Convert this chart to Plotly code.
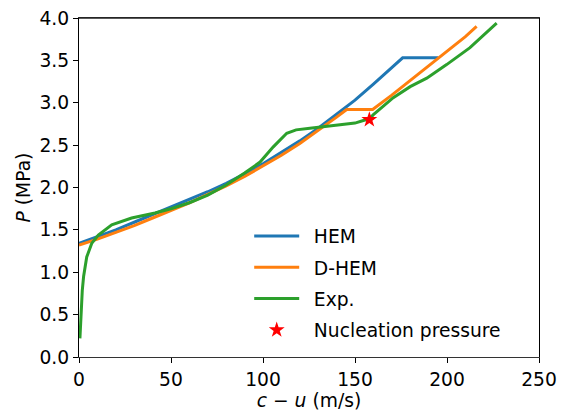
import plotly.graph_objects as go

hem_x = [0, 10, 20, 30, 40, 50, 60, 70, 80, 90, 100, 110, 120, 130, 140, 150, 160, 170, 175.9, 195.3]
hem_y = [1.34, 1.42, 1.50, 1.59, 1.68, 1.77, 1.86, 1.95, 2.05, 2.16, 2.28, 2.41, 2.55, 2.70, 2.86, 3.03, 3.22, 3.42, 3.53, 3.53]

dhem_x = [0, 10, 20, 30, 40, 50, 60, 70, 80, 90, 100, 110, 120, 130, 140, 145.5, 159.6, 170, 180, 190, 200, 210, 216.1]
dhem_y = [1.32, 1.39, 1.47, 1.55, 1.64, 1.73, 1.82, 1.92, 2.02, 2.13, 2.25, 2.38, 2.52, 2.67, 2.83, 2.92, 2.92, 3.09, 3.26, 3.43, 3.61, 3.78, 3.90]

exp_x = [0.5, 1.0, 1.8, 2.5, 4.2, 6.9, 10.5, 17.8, 28.6, 41.3, 50, 60, 70, 80, 90, 98.4, 105.6, 112.9, 118, 125.5, 135,
         143.6, 150, 154.5, 157.8, 160, 165, 170.8, 180, 189, 199.8, 212.5, 227]
exp_y = [0.22, 0.50, 0.79, 0.95, 1.18, 1.34, 1.44, 1.56, 1.64, 1.70, 1.75, 1.82, 1.91, 2.03, 2.17, 2.30, 2.48, 2.64, 2.68, 2.70, 2.72,
         2.74, 2.76, 2.79, 2.81, 2.86, 2.95, 3.06, 3.19, 3.29, 3.45, 3.65, 3.94]

nuc_x = [157.8]
nuc_y = [2.80]

names = ["HEM", "D-HEM", "Exp.", "Nucleation pressure"]
GAP = "\u00a0\u2009"

FS = 18.7

fig = go.Figure()
fig.add_trace(go.Scatter(x=hem_x, y=hem_y, mode="lines", name=GAP + names[0], legendgroup="a",
                         line=dict(color="#1f77b4", width=3)))
fig.add_trace(go.Scatter(x=dhem_x, y=dhem_y, mode="lines", name=GAP + names[1], legendgroup="b",
                         line=dict(color="#ff7f0e", width=3)))
fig.add_trace(go.Scatter(x=exp_x, y=exp_y, mode="lines", name=GAP + names[2], legendgroup="c",
                         line=dict(color="#2ca02c", width=3)))
fig.add_trace(go.Scatter(x=nuc_x, y=nuc_y, mode="markers", name=GAP + names[3], legendgroup="d",
                         marker=dict(symbol="star", color="red", size=12, line=dict(width=0))))

axis_common = dict(showgrid=False, zeroline=False, showline=True, linewidth=1.3,
                   mirror=True, ticks="outside", ticklen=5, tickwidth=1.2, tickcolor="black",
                   automargin=False,
                   tickfont=dict(family="DejaVu Sans", size=FS, color="black"))

fig.update_xaxes(range=[0, 250], tickvals=[0, 50, 100, 150, 200, 250], linecolor="#333",
                 title=dict(text="<i>c</i> − <i>u</i> (m/s)", font=dict(family="DejaVu Sans", size=FS, color="black"),
                            standoff=4),
                 **axis_common)
fig.update_yaxes(range=[0, 4.0], tickvals=[0, 0.5, 1.0, 1.5, 2.0, 2.5, 3.0, 3.5, 4.0], tickformat=".1f",
                 linecolor="black",
                 title=dict(text="<i>P</i> (MPa)", font=dict(family="DejaVu Sans", size=FS, color="black"),
                            standoff=3),
                 **axis_common)

# top frame line (axes spine)
fig.add_shape(type="line", xref="paper", yref="paper", x0=0, x1=1, y0=1, y1=1,
              line=dict(color="#222", width=1.6), layer="above")

fig.update_layout(
    width=561, height=413,
    margin=dict(l=79, r=22, t=18, b=56),
    paper_bgcolor="white", plot_bgcolor="white",
    font=dict(family="DejaVu Sans", size=FS, color="black"),
    legend=dict(x=0.370, y=0.412, xanchor="left", yanchor="top", bgcolor="rgba(0,0,0,0)",
                tracegroupgap=4, itemwidth=45,
                font=dict(family="DejaVu Sans", size=FS, color="black")),
)

fig.write_html("out.html", config={"displayModeBar": False},
               post_script="document.body.style.margin='0';document.body.style.overflow='hidden';")
